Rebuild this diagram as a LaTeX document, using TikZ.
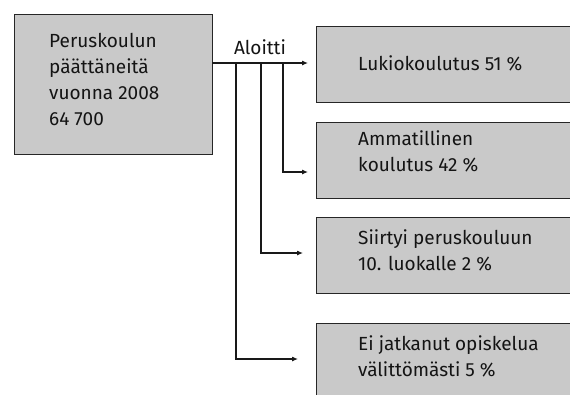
\documentclass[tikz,border=0pt]{standalone}
\usepackage{fontspec}
\setmainfont{Fira Sans}
\usetikzlibrary{arrows.meta}
\begin{document}
\begin{tikzpicture}[x=1pt,y=-1pt,
  box/.style={draw=black!85,line width=1.3pt,fill=black!21,inner sep=0pt,anchor=north west},
  lbl/.style={anchor=west,align=left,inner sep=0pt,font=\fontsize{19}{26}\selectfont,text=black!92},
  arr/.style={line width=1.1pt,draw=black!90,-{Latex[length=6pt,width=5pt]}}]
\useasboundingbox (0,0) rectangle (570,394);
\clip (0,0) rectangle (570,394);
% boxes
\node[box,minimum width=198pt,minimum height=140pt] (lb) at (14,14) {};
\node[box,minimum width=270pt,minimum height=76pt] (b1) at (316,26) {};
\node[box,minimum width=270pt,minimum height=76pt] (b2) at (316,122) {};
\node[box,minimum width=270pt,minimum height=76pt] (b3) at (316,217) {};
\node[box,minimum width=270pt,minimum height=76pt] (b4) at (316,323) {};
% labels
\node[lbl] (tl) at (49,79.5) {Peruskoulun\\päättäneitä\\vuonna 2008\\64 700};
\node[lbl] (t1) at (358,63) {Lukiokoulutus 51 \%};
\node[lbl] (t2) at (358,151.5) {Ammatillinen\\koulutus 42 \%};
\node[lbl] (t3) at (358,250) {Siirtyi peruskouluun\\10. luokalle 2 \%};
\node[lbl] (t4) at (358,356) {Ei jatkanut opiskelua\\välittömästi 5 \%};
\node[lbl,anchor=center] (al) at (260,47) {Aloitti};
% connectors
\coordinate (s) at (212,63);
\coordinate (e1) at (308,63);
\coordinate (k2) at (283,63);
\coordinate (k3) at (261,63);
\coordinate (k4) at (236,63);
\coordinate (e2) at (308,172);
\coordinate (e3) at (303,253);
\coordinate (e4) at (298,359);
\draw[arr] (s) -- (e1);
\draw[arr] (k2) |- (e2);
\draw[arr] (k3) |- (e3);
\draw[arr] (k4) |- (e4);
\end{tikzpicture}
\end{document}
